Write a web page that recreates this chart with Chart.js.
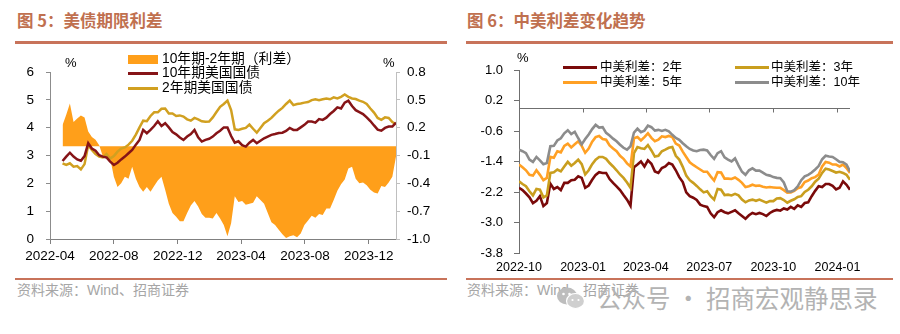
<!DOCTYPE html>
<html><head><meta charset="utf-8">
<script src="https://cdn.jsdelivr.net/npm/chart.js@4.4.1/dist/chart.umd.min.js"></script>
<style>
body{margin:0;background:#fff;width:900px;height:334px;position:relative;overflow:hidden;font-family:"Liberation Sans","Noto Sans CJK SC",sans-serif;}
.abs{position:absolute;white-space:nowrap;}
.title{font-family:"Noto Sans CJK SC",sans-serif;font-weight:700;font-size:16.5px;color:#C0704F;line-height:20px;top:10px;}
.rule{position:absolute;background:#C8735A;}
.src{font-size:14px;color:#A6A6A6;line-height:18px;top:281px;}
.pct{font-size:13px;color:#000;line-height:14px;}
.lg{font-size:13.8px;color:#000;line-height:14px;}
.lg2{font-size:12.5px;color:#000;line-height:14px;}
.sw{position:absolute;}
canvas{position:absolute;}
.wm{font-family:"Noto Sans CJK SC",sans-serif;font-size:24.5px;color:#B3B3B3;line-height:30px;top:283px;left:597px;}
</style></head>
<body>
<div class="abs title" style="left:17px;">图 5：美债期限利差</div>
<div class="abs title" style="left:467px;">图 6：中美利差变化趋势</div>
<div class="rule" style="left:15px;top:41px;width:432px;height:3px;"></div>
<div class="rule" style="left:466px;top:41px;width:427px;height:3px;"></div>
<div class="rule" style="left:15px;top:278px;width:432px;height:2px;"></div>
<div class="rule" style="left:466px;top:278px;width:427px;height:2px;"></div>
<div class="abs src" style="left:17px;">资料来源：Wind、招商证券</div>
<div class="abs src" style="left:467px;">资料来源：Wind、招商证券</div>

<canvas id="c1" width="450" height="230" style="left:0;top:50px;"></canvas>
<canvas id="c2" width="450" height="230" style="left:450px;top:50px;"></canvas>

<div class="abs pct" style="left:65px;top:56px;">%</div>
<div class="abs pct" style="left:383px;top:56px;">%</div>
<div class="abs pct" style="left:517px;top:51px;">%</div>

<div class="sw" style="left:128px;top:55px;width:30px;height:9px;background:#FF9F1A;"></div>
<div class="abs lg" style="left:162px;top:52px;">10年期-2年期（利差）</div>
<div class="sw" style="left:128px;top:72px;width:30px;height:3px;background:#861417;"></div>
<div class="abs lg" style="left:162px;top:66px;">10年期美国国债</div>
<div class="sw" style="left:128px;top:87px;width:30px;height:3px;background:#D1A020;"></div>
<div class="abs lg" style="left:162px;top:81px;">2年期美国国债</div>

<div class="sw" style="left:563px;top:66px;width:34px;height:3px;background:#7A0A0A;"></div>
<div class="abs lg2" style="left:600px;top:60px;">中美利差：2年</div>
<div class="sw" style="left:735px;top:66px;width:34px;height:3px;background:#C99E1E;"></div>
<div class="abs lg2" style="left:771px;top:60px;">中美利差：3年</div>
<div class="sw" style="left:563px;top:81px;width:34px;height:3px;background:#FFA024;"></div>
<div class="abs lg2" style="left:600px;top:75px;">中美利差：5年</div>
<div class="sw" style="left:735px;top:81px;width:34px;height:3px;background:#8C8C8C;"></div>
<div class="abs lg2" style="left:771px;top:75px;">中美利差：10年</div>

<svg class="abs" style="left:556px;top:286px;" width="30" height="24" viewBox="0 0 30 24">
<ellipse cx="11" cy="10" rx="10" ry="8.5" fill="#BDBDBD"/>
<ellipse cx="19.5" cy="15" rx="9" ry="7.5" fill="#CFCFCF" stroke="#fff" stroke-width="1.2"/>
<circle cx="7.5" cy="8" r="1.3" fill="#fff"/><circle cx="13.5" cy="8" r="1.3" fill="#fff"/>
<circle cx="16.5" cy="14" r="1.1" fill="#fff"/><circle cx="22.5" cy="14" r="1.1" fill="#fff"/>
</svg>
<div class="abs wm">公众号 · 招商宏观静思录</div>

<script>
// ---------- Figure 5 data (weekly samples) ----------
const usAxisStart = '2022-04-01';
const usFirstDate = '2022-04-25';
const usStepDays = 7;
const usTickLabels = ['2022-04','2022-08','2022-12','2023-04','2023-08','2023-12'];
const us10y = [2.80,2.96,3.10,2.96,2.86,2.81,2.98,3.44,3.25,3.17,
3.01,2.96,2.93,2.78,2.66,2.74,2.86,2.96,3.08,3.20,
3.39,3.56,3.92,3.80,3.92,4.06,4.23,4.06,4.16,4.01,
3.84,3.76,3.65,3.56,3.68,3.77,3.92,3.65,3.50,3.56,
3.60,3.68,3.80,3.89,4.01,4.01,3.70,3.46,3.51,3.37,
3.32,3.46,3.56,3.44,3.53,3.62,3.68,3.74,3.77,3.81,
3.82,3.88,3.99,3.92,3.92,4.01,4.10,4.22,4.22,4.18,
4.31,4.28,4.36,4.49,4.60,4.73,4.69,4.90,4.97,4.78,
4.63,4.56,4.49,4.37,4.24,4.08,3.93,3.89,3.99,4.04,
4.04,4.18];
const us2y = [2.72,2.66,2.72,2.60,2.62,2.50,2.69,3.38,3.20,3.05,
2.96,2.93,3.05,2.89,2.98,3.14,3.25,3.29,3.39,3.53,
3.75,4.01,4.25,4.23,4.42,4.55,4.55,4.68,4.69,4.51,
4.51,4.42,4.44,4.40,4.30,4.25,4.35,4.30,4.23,4.21,
4.22,4.37,4.56,4.75,4.85,4.97,4.63,3.94,3.92,3.96,
3.99,4.11,3.96,3.82,3.99,4.16,4.25,4.35,4.49,4.61,
4.71,4.85,4.97,4.81,4.85,4.87,4.90,4.92,4.99,5.02,
4.99,5.02,5.05,5.02,5.09,5.05,5.11,5.19,5.11,5.05,
5.03,4.97,4.93,4.85,4.69,4.54,4.35,4.28,4.37,4.35,
4.20,4.13];
const usSpread = [0.23,0.34,0.46,0.26,0.30,0.33,0.31,0.16,0.10,0.07,
0.01,-0.11,-0.08,-0.13,-0.33,-0.44,-0.40,-0.33,-0.35,-0.22,
-0.35,-0.44,-0.49,-0.44,-0.49,-0.43,-0.37,-0.33,-0.47,-0.62,
-0.72,-0.76,-0.81,-0.81,-0.72,-0.64,-0.59,-0.65,-0.73,-0.77,
-0.77,-0.78,-0.72,-0.78,-0.85,-0.97,-0.83,-0.54,-0.60,-0.59,
-0.63,-0.62,-0.61,-0.54,-0.58,-0.62,-0.72,-0.82,-0.85,-0.90,
-0.95,-0.99,-0.97,-0.96,-0.98,-0.94,-0.85,-0.80,-0.75,-0.77,
-0.73,-0.74,-0.67,-0.67,-0.58,-0.48,-0.41,-0.36,-0.24,-0.22,
-0.35,-0.40,-0.39,-0.42,-0.47,-0.50,-0.51,-0.43,-0.44,-0.39,
-0.33,-0.11];

// ---------- Figure 6 data (5-day samples) ----------
const cnAxisStart = '2022-10-01';
const cnFirstDate = '2022-10-01';
const cnStepDays = 5;
const cnTickLabels = ['2022-10','2023-01','2023-04','2023-07','2023-10','2024-01'];
const cn2y = [-2.09,-2.15,-2.24,-2.34,-2.49,-2.43,-2.31,-2.57,-2.49,-1.98,
-2.12,-2.07,-2.15,-1.96,-1.96,-1.89,-1.88,-1.79,-1.83,-2.09,
-2.03,-1.88,-1.75,-1.68,-1.70,-1.70,-1.86,-1.96,-2.05,-2.15,
-2.28,-2.40,-2.56,-1.55,-1.48,-1.40,-1.53,-1.37,-1.46,-1.66,
-1.70,-1.57,-1.53,-1.44,-1.48,-1.63,-1.81,-1.94,-2.21,-2.31,
-2.35,-2.41,-2.53,-2.57,-2.59,-2.76,-2.86,-2.73,-2.68,-2.73,
-2.76,-2.72,-2.68,-2.76,-2.83,-2.90,-2.81,-2.75,-2.78,-2.75,
-2.78,-2.83,-2.75,-2.70,-2.67,-2.69,-2.63,-2.66,-2.59,-2.64,
-2.55,-2.59,-2.49,-2.47,-2.31,-2.17,-2.05,-2.07,-1.99,-1.99,
-2.04,-2.13,-2.09,-1.92,-2.01,-2.14];
const cn3y = [-1.92,-1.99,-2.05,-2.18,-2.29,-2.12,-2.14,-2.34,-2.29,-1.70,
-1.68,-1.61,-1.66,-1.53,-1.41,-1.51,-1.44,-1.35,-1.47,-1.74,
-1.63,-1.47,-1.35,-1.28,-1.28,-1.33,-1.44,-1.53,-1.63,-1.74,
-1.83,-1.95,-2.09,-1.18,-1.02,-1.05,-1.07,-0.97,-1.11,-1.27,
-1.25,-1.13,-1.09,-1.04,-1.02,-1.25,-1.35,-1.54,-1.77,-1.89,
-1.96,-2.04,-2.13,-2.21,-2.18,-2.31,-2.40,-2.12,-2.14,-2.28,
-2.27,-2.29,-2.25,-2.29,-2.40,-2.47,-2.42,-2.40,-2.43,-2.40,
-2.44,-2.48,-2.44,-2.44,-2.37,-2.36,-2.41,-2.48,-2.43,-2.39,
-2.33,-2.31,-2.20,-2.14,-2.05,-1.93,-1.85,-1.70,-1.59,-1.61,
-1.65,-1.69,-1.67,-1.70,-1.75,-1.88];
const cn5y = [-1.48,-1.55,-1.63,-1.75,-1.77,-1.63,-1.75,-1.89,-1.83,-1.28,
-1.30,-1.13,-1.16,-0.99,-0.93,-1.03,-0.95,-0.87,-0.99,-1.17,
-1.06,-0.88,-0.76,-0.73,-0.81,-0.83,-0.98,-1.06,-1.13,-1.25,
-1.33,-1.45,-1.53,-0.79,-0.76,-0.85,-0.76,-0.66,-0.78,-0.87,
-0.83,-0.74,-0.76,-0.73,-0.76,-0.93,-0.98,-1.14,-1.28,-1.42,
-1.49,-1.55,-1.61,-1.67,-1.67,-1.79,-1.90,-1.68,-1.69,-1.85,
-1.85,-1.86,-1.82,-1.88,-1.96,-2.07,-2.05,-2.01,-2.04,-2.03,
-2.06,-2.08,-2.07,-2.08,-2.09,-2.09,-2.15,-2.22,-2.21,-2.17,
-2.10,-2.07,-1.94,-1.90,-1.84,-1.81,-1.74,-1.53,-1.41,-1.43,
-1.48,-1.48,-1.53,-1.48,-1.57,-1.70];
const cn10y = [-1.09,-1.13,-1.18,-1.35,-1.41,-1.28,-1.37,-1.47,-1.44,-1.00,
-0.99,-0.85,-0.79,-0.66,-0.58,-0.68,-0.62,-0.79,-0.95,-0.81,
-0.69,-0.55,-0.44,-0.51,-0.50,-0.65,-0.72,-0.80,-0.87,-0.96,
-1.04,-1.09,-1.00,-0.64,-0.54,-0.63,-0.59,-0.46,-0.50,-0.59,
-0.57,-0.60,-0.57,-0.61,-0.70,-0.78,-0.83,-0.92,-1.00,-1.07,
-1.11,-1.13,-1.10,-1.09,-1.11,-1.23,-1.33,-1.18,-1.13,-1.29,
-1.35,-1.40,-1.32,-1.50,-1.67,-1.75,-1.63,-1.58,-1.64,-1.64,
-1.69,-1.75,-1.77,-1.81,-1.83,-1.84,-1.95,-2.18,-2.19,-2.15,
-2.05,-1.89,-1.79,-1.75,-1.69,-1.61,-1.52,-1.34,-1.25,-1.27,
-1.28,-1.34,-1.41,-1.42,-1.48,-1.66];

// ---------- helpers ----------
const DAY = 86400000;
function dayOff(dateStr, baseStr){ return Math.round((Date.parse(dateStr+'T00:00:00Z') - Date.parse(baseStr+'T00:00:00Z'))/DAY); }
function pts(values, firstDate, step, base){
  const d0 = dayOff(firstDate, base);
  return values.map((v,i)=>({x: d0 + i*step, y: v}));
}
const FONT = '"Liberation Sans", Arial, sans-serif';
Chart.defaults.font.family = FONT;
Chart.defaults.color = '#000';

function tickAxis(labels, base){
  return {
    afterBuildTicks: s => { s.ticks = labels.map(l => ({value: dayOff(l+'-01', base)})); },
    ticks: { callback: (v,i) => labels[i] }
  };
}

// ---------- Figure 5 ----------
const usS = pts(usSpread, usFirstDate, usStepDays, usAxisStart);
const us10 = pts(us10y, usFirstDate, usStepDays, usAxisStart);
const us2 = pts(us2y, usFirstDate, usStepDays, usAxisStart);
const usMax = us10[us10.length-1].x;
const t1 = tickAxis(usTickLabels, usAxisStart);

new Chart(document.getElementById('c1'), {
  type: 'line',
  data: { datasets: [
    { data: us10, yAxisID:'y', borderColor:'#861417', borderWidth:2.5, pointRadius:0, order:1, fill:false },
    { data: us2, yAxisID:'y', borderColor:'#D1A020', borderWidth:2.5, pointRadius:0, order:2, fill:false },
    { data: usS, yAxisID:'y1', borderWidth:0, borderColor:'rgba(0,0,0,0)', backgroundColor:'#FF9F1A', pointRadius:0, order:3, fill:{value:0} }
  ]},
  options: {
    responsive:false, animation:false, devicePixelRatio:1,
    layout:{ padding:{ top:22, left:0, right:0, bottom:0 } },
    plugins:{ legend:{display:false}, tooltip:{enabled:false} },
    scales:{
      x:{ type:'linear', min:0, max:usMax,
        afterBuildTicks:t1.afterBuildTicks,
        afterFit: s => { s.height = 41; },
        grid:{ drawOnChartArea:false, drawTicks:true, tickLength:5, color:'#808080' },
        border:{ display:true, color:'#808080', width:1 },
        ticks:{ callback:t1.ticks.callback, maxRotation:0, autoSkip:false, padding:4, font:{size:13.5}, color:'#000' } },
      y:{ position:'left', min:0, max:6,
        afterFit: s => { s.width = 50; },
        grid:{ drawOnChartArea:false, tickLength:4, color:'#8c8c8c' },
        border:{ display:true, color:'#8c8c8c' },
        ticks:{ stepSize:1, padding:12, font:{size:13.5}, color:'#000', callback:v=>String(v) } },
      y1:{ position:'right', min:-1.0, max:0.8,
        afterFit: s => { s.width = 54; },
        grid:{ drawOnChartArea:false, tickLength:4, color:'#bfbfbf' },
        border:{ display:true, color:'#bfbfbf' },
        ticks:{ stepSize:0.3, padding:7, font:{size:13.5}, color:'#000', callback:v=>Number(v).toFixed(1) } }
    }
  }
});

// ---------- Figure 6 ----------
const zeroAxisPlugin = {
  id:'zeroAxis',
  afterDatasetsDraw(chart){
    const {ctx, chartArea, scales} = chart;
    const x = scales.x, y = scales.y;
    const py = Math.round(y.getPixelForValue(0)) + 0.5;
    ctx.save();
    ctx.strokeStyle = '#6f6f6f'; ctx.lineWidth = 1;
    ctx.beginPath();
    ctx.moveTo(chartArea.left, py); ctx.lineTo(chartArea.right, py);
    x.ticks.forEach(t => {
      const px = Math.round(x.getPixelForValue(t.value)) + 0.5;
      ctx.moveTo(px, py); ctx.lineTo(px, py + 4);
    });
    ctx.stroke();
    ctx.restore();
  }
};
const c2 = pts(cn2y, cnFirstDate, cnStepDays, cnAxisStart);
const c3 = pts(cn3y, cnFirstDate, cnStepDays, cnAxisStart);
const c5 = pts(cn5y, cnFirstDate, cnStepDays, cnAxisStart);
const c10 = pts(cn10y, cnFirstDate, cnStepDays, cnAxisStart);
const cnMax = c2[c2.length-1].x;
const t2 = tickAxis(cnTickLabels, cnAxisStart);

new Chart(document.getElementById('c2'), {
  type: 'line',
  data: { datasets: [
    { data: c10, borderColor:'#8C8C8C', borderWidth:2.6, pointRadius:0, order:1 },
    { data: c5, borderColor:'#FFA024', borderWidth:2.6, pointRadius:0, order:2 },
    { data: c3, borderColor:'#C99E1E', borderWidth:2.6, pointRadius:0, order:3 },
    { data: c2, borderColor:'#7A0A0A', borderWidth:2.6, pointRadius:0, order:4 }
  ]},
  options: {
    responsive:false, animation:false, devicePixelRatio:1,
    layout:{ padding:{ top:20, left:0, right:50, bottom:0 } },
    plugins:{ legend:{display:false}, tooltip:{enabled:false} },
    scales:{
      x:{ type:'linear', min:0, max:cnMax,
        afterBuildTicks:t2.afterBuildTicks,
        afterFit: s => { s.height = 27; },
        grid:{ display:false, drawTicks:false },
        border:{ display:false },
        ticks:{ callback:t2.ticks.callback, maxRotation:0, autoSkip:false, padding:7, font:{size:12.5}, color:'#000' } },
      y:{ position:'left', min:-3.8, max:1.0,
        afterFit: s => { s.width = 69; },
        grid:{ drawOnChartArea:false, tickLength:5, color:'#6f6f6f' },
        border:{ display:true, color:'#6f6f6f' },
        ticks:{ stepSize:0.8, padding:11, font:{size:13}, color:'#000', callback:v=>Number(v).toFixed(1) } }
    }
  },
  plugins:[zeroAxisPlugin]
});
</script>
</body></html>
